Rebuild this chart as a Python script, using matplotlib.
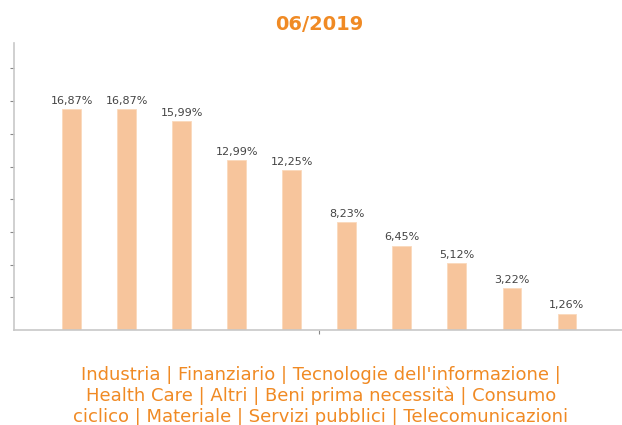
import numpy as np
import matplotlib.pyplot as plt

# sector weights at 06/2019
sectors = ["Industria", "Finanziario", "Tecnologie dell'informazione", "Health Care",
           "Altri", "Beni prima necessità", "Consumo ciclico", "Materiale",
           "Servizi pubblici", "Telecomunicazioni"]
weights = [16.87, 16.87, 15.99, 12.99, 12.25, 8.23, 6.45, 5.12, 3.22, 1.26]
labels = ["16,87%", "16,87%", "15,99%", "12,99%", "12,25%",
          "8,23%", "6,45%", "5,12%", "3,22%", "1,26%"]

orange = "#F08A24"
bar_col = "#F7C59C"

fig = plt.figure(figsize=(6.22, 4.25), dpi=100)
ax = fig.add_axes([14 / 622, 95 / 425, 608 / 622, 287 / 425])

x = np.arange(len(weights))
ax.bar(x, weights, width=0.34, color=bar_col, edgecolor="#FAD9BC", linewidth=0.6)

for xi, w, lab in zip(x, weights, labels):
    ax.text(xi, w + 0.25, lab, ha="center", va="bottom", fontsize=8, color="#444444")

ax.set_xlim(-1.045, 10.0)
ax.set_ylim(0, 21.95)
ax.set_yticks(np.arange(2.5, 21, 2.5))
ax.set_yticklabels([])
ax.set_xticks([4.5])
ax.set_xticklabels([])
ax.tick_params(axis="both", length=3, width=0.8, color="#888888", direction="out")

for s in ["top", "right"]:
    ax.spines[s].set_visible(False)
for s in ["left", "bottom"]:
    ax.spines[s].set_color("#C8C8C8")
    ax.spines[s].set_linewidth(1.2)

fig.text(0.513, 1 - 24.5 / 425, "06/2019", ha="center", va="center",
         fontsize=14, color=orange, fontweight="bold")

caption = ("Industria | Finanziario | Tecnologie dell'informazione |\n"
           "Health Care | Altri | Beni prima necessità | Consumo\n"
           "ciclico | Materiale | Servizi pubblici | Telecomunicazioni")
fig.text(0.516, 1 - 366 / 425, caption, ha="center", va="top",
         fontsize=13, color=orange, linespacing=1.2)

fig.savefig("out.png", dpi=100)
